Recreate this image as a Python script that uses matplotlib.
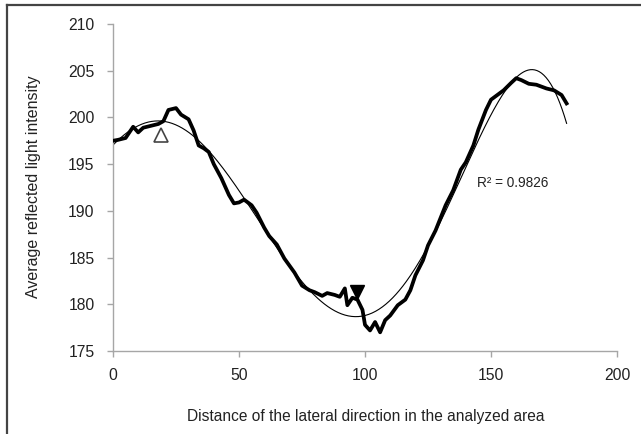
import numpy as np
import matplotlib
matplotlib.use("Agg")
import matplotlib.pyplot as plt
from matplotlib.lines import Line2D

plt.rcParams['font.family'] = ['Liberation Sans', 'DejaVu Sans']

# Measured profile (thick line)
dist = [0, 2, 5, 7, 8, 10, 12, 15, 18, 20, 22, 25, 27, 30, 32, 34, 36, 38, 40, 43,
        46, 48, 50, 52, 55, 57, 60, 62, 65, 68, 72, 75, 78, 80, 83, 85, 88, 90, 92,
        93, 95, 97, 99, 100, 102, 104, 106, 108, 110, 113, 116, 118, 120, 123, 125,
        128, 132, 135, 138, 140, 143, 145, 148, 150, 152, 155, 158, 160, 162, 165,
        168, 172, 175, 178, 180]
intensity = [197.5, 197.6, 197.8, 198.6, 199.0, 198.4, 198.9, 199.1, 199.3, 199.6,
             200.8, 201.0, 200.3, 199.8, 198.6, 197.0, 196.7, 196.3, 195.0, 193.5,
             191.7, 190.8, 190.9, 191.2, 190.6, 189.8, 188.2, 187.3, 186.4, 184.9,
             183.4, 182.0, 181.5, 181.3, 180.9, 181.2, 181.0, 180.8, 181.7, 179.9,
             180.7, 180.5, 179.4, 177.8, 177.2, 178.1, 177.0, 178.3, 178.8, 179.9,
             180.5, 181.5, 183.1, 184.7, 186.3, 187.9, 190.6, 192.2, 194.4, 195.2,
             197.0, 198.7, 200.8, 201.9, 202.3, 202.9, 203.7, 204.2, 204.0, 203.6,
             203.5, 203.1, 202.9, 202.4, 201.5]

# Markers
open_mark = (19, 198.1)
filled_mark = (96.7, 181.3)
r2_label = "R² = 0.9826"

x_ticks = [0, 50, 100, 150, 200]
y_ticks = [175, 180, 185, 190, 195, 200, 205, 210]

fig = plt.figure(figsize=(6.41, 4.34), dpi=100)
ax = fig.add_axes([113/641, 1-351/434, (617-113)/641, (351-24)/434])

ax.plot(dist, intensity, color='black', lw=2.7, solid_joinstyle='round', zorder=3)

# polynomial trendline fitted to the profile sampled at unit steps
xs = np.arange(min(dist), max(dist) + 1)
ys = np.interp(xs, dist, intensity)
coef = np.polyfit(xs, ys, 6)
xf = np.linspace(min(dist), max(dist), 400)
ax.plot(xf, np.polyval(coef, xf), color='black', lw=0.8, zorder=2)

ax.plot(*open_mark, marker='^', ms=10, mfc='white', mec='#444444', mew=1.2, zorder=4)
ax.plot(*filled_mark, marker='v', ms=10, mfc='black', mec='black', zorder=4)

ax.text(144.5, 193, r2_label, fontsize=9.8, va='center', ha='left', color='#222222')

ax.set_xlim(0, 200)
ax.set_ylim(175, 210)
ax.set_xticks(x_ticks)
ax.set_yticks(y_ticks)
for s in ['top', 'right']:
    ax.spines[s].set_visible(False)
for s in ['left', 'bottom']:
    ax.spines[s].set_color('#a6a6a6')
    ax.spines[s].set_linewidth(1.0)
ax.tick_params(axis='both', colors='#a6a6a6', length=4.3, width=1.0,
               labelcolor='#222222', labelsize=11.3)
ax.tick_params(axis='y', pad=9)
ax.tick_params(axis='x', pad=8)

fig.text(366/641, 1-417/434, "Distance of the lateral direction in the analyzed area",
         ha='center', va='center', fontsize=11.2, color='#222222')
fig.text(34/641, 1-187/434, "Average reflected light intensity", rotation=90,
         ha='center', va='center', fontsize=11.5, color='#222222')

# outer frame (top and left edges)
fig.add_artist(Line2D([7/641, 1], [1-4.5/434, 1-4.5/434], color='#444444', lw=1.6,
                      transform=fig.transFigure))
fig.add_artist(Line2D([7/641, 7/641], [0, 1-4.5/434], color='#444444', lw=1.6,
                      transform=fig.transFigure))

fig.savefig("out.png", dpi=100)
